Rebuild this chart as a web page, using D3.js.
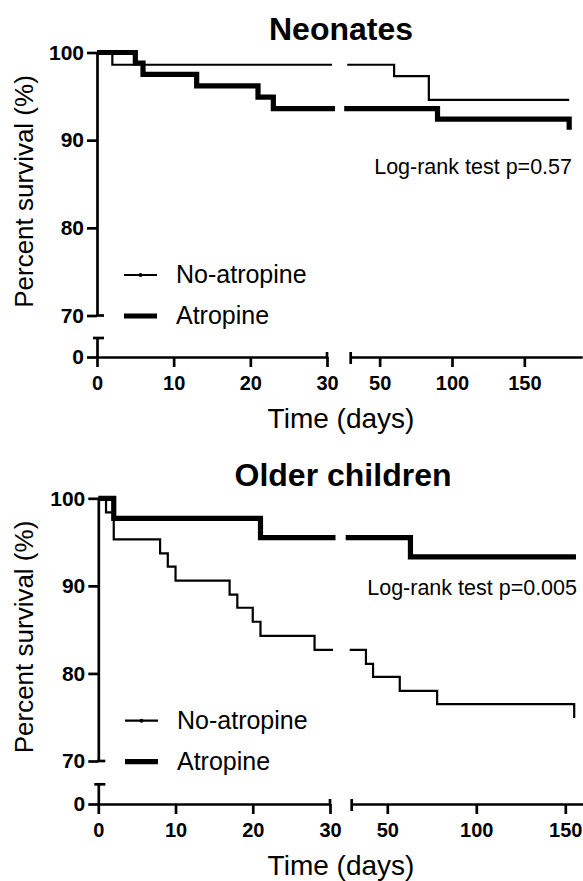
<!DOCTYPE html>
<html><head><meta charset="utf-8">
<script src="https://cdn.jsdelivr.net/npm/d3@7"></script>
<style>
body{margin:0;background:#fff}
svg{display:block}
text{font-family:"Liberation Sans",Arial,Helvetica,sans-serif;fill:#000}
</style>
</head><body>
<svg id="chart" width="583" height="881"></svg>
<script>
// ---------------- data ----------------
const seriesNames = ["No-atropine", "Atropine"];
const panelTitles = ["Neonates", "Older children"];
const pValueLabels = ["Log-rank test p=0.57", "Log-rank test p=0.005"];
const xTicksSeg1 = [0, 10, 20, 30];
const xTicksSeg2 = [50, 100, 150];
const yTicksUpper = [70, 80, 90, 100];
const yTicksLower = [0];

// Neonates
const neoNoTimes = [0, 2, 60, 84];
const neoNoSurv  = [100, 98.6, 97.3, 94.6];
const neoNoEnd   = 181;
const neoAtTimes = [0, 5, 6, 13, 21, 23, 90, 181];
const neoAtSurv  = [100, 98.8, 97.5, 96.2, 94.9, 93.6, 92.4, 91.2];
const neoAtEnd   = 181;

// Older children
const oldNoTimes = [0, 1, 2, 8, 9, 10, 17, 18, 20, 21, 28, 38, 42, 57, 78, 155];
const oldNoSurv  = [100, 98.4, 95.3, 93.7, 92.2, 90.6, 89.0, 87.5, 85.9, 84.3, 82.7, 81.1, 79.6, 78.0, 76.5, 74.9];
const oldNoEnd   = 155;
const oldAtTimes = [0, 2, 21, 63];
const oldAtSurv  = [100, 97.7, 95.5, 93.3];
const oldAtEnd   = 156;

// ---------------- drawing ----------------
const svg = d3.select("#chart");
const AXW = 2.7;
const lineWidths = [2.2, 5.2];

const panels = [
  {
    title: panelTitles[0], titleX: 341, titleY: 40,
    x1: [97, 327], x2: [350.7, 582.2], x2dom: [30, 190],
    yUp: [315.5, 52.5], yLow: [357, 338],
    series: [
      {t: neoNoTimes, s: neoNoSurv, end: neoNoEnd},
      {t: neoAtTimes, s: neoAtSurv, end: neoAtEnd}
    ],
    ext1: [5, 8], ext2: [3.5, 6.5],
    legY: [275, 316], legX: [124, 157], legTextX: 176,
    pText: pValueLabels[0], pX: 572, pY: 174,
    yLabelY: 191.5, xLabelY: 428
  },
  {
    title: panelTitles[1], titleX: 343, titleY: 485.5,
    x1: [98.3, 330], x2: [351.7, 583.1], x2dom: [30, 160],
    yUp: [761, 498.3], yLow: [804, 784.3],
    series: [
      {t: oldNoTimes, s: oldNoSurv, end: oldNoEnd},
      {t: oldAtTimes, s: oldAtSurv, end: oldAtEnd}
    ],
    ext1: [3, 5.5], ext2: [2, 6],
    legY: [720.7, 761.7], legX: [125, 158], legTextX: 177,
    pText: pValueLabels[1], pX: 577, pY: 595,
    yLabelY: 637, xLabelY: 875
  }
];

function styleAxis(g, fs) {
  g.attr("font-family", null);
  g.select(".domain").attr("stroke", "#000").attr("stroke-width", AXW);
  g.selectAll(".tick line").attr("stroke", "#000").attr("stroke-width", AXW);
  g.selectAll(".tick text").attr("font-size", fs).attr("font-weight", "bold")
    .attr("fill", "#000");
}

panels.forEach(p => {
  const xs1 = d3.scaleLinear().domain([0, 30]).range(p.x1);
  const xs2 = d3.scaleLinear().domain(p.x2dom).range(p.x2);
  const ysU = d3.scaleLinear().domain([70, 100]).range(p.yUp);
  const ysL = d3.scaleLinear().domain([0, 2.2]).range(p.yLow);
  const axisY = ysL(0);
  const axisX = xs1(0);
  const fmt = d3.format("d");

  // title
  svg.append("text").attr("x", p.titleX).attr("y", p.titleY)
    .attr("text-anchor", "middle").attr("font-size", 32).attr("font-weight", "bold")
    .text(p.title);

  // x axis segment 1
  const gx1 = svg.append("g").attr("transform", `translate(0,${axisY})`)
    .call(d3.axisBottom(xs1).tickValues(xTicksSeg1).tickFormat(fmt).tickSize(10).tickSizeOuter(0).tickPadding(9));
  styleAxis(gx1, 20);
  // x axis segment 2
  const gx2 = svg.append("g").attr("transform", `translate(0,${axisY})`)
    .call(d3.axisBottom(xs2).tickValues(xTicksSeg2).tickFormat(fmt).tickSize(10).tickSizeOuter(0).tickPadding(9));
  styleAxis(gx2, 20);
  // break caps on x axis
  svg.append("line").attr("x1", xs1(30)).attr("x2", xs1(30))
    .attr("y1", axisY - 5).attr("y2", axisY + 1).attr("stroke", "#000").attr("stroke-width", AXW);
  svg.append("line").attr("x1", xs2(30)).attr("x2", xs2(30))
    .attr("y1", axisY - 5).attr("y2", axisY + 7).attr("stroke", "#000").attr("stroke-width", AXW);

  // y axis upper segment
  const gyU = svg.append("g").attr("transform", `translate(${axisX},0)`)
    .call(d3.axisLeft(ysU).tickValues(yTicksUpper).tickFormat(fmt).tickSize(10).tickSizeOuter(0).tickPadding(3));
  styleAxis(gyU, 21);
  // y axis lower segment
  const gyL = svg.append("g").attr("transform", `translate(${axisX},0)`)
    .call(d3.axisLeft(ysL).tickValues(yTicksLower).tickFormat(fmt).tickSize(10).tickSizeOuter(0).tickPadding(3));
  styleAxis(gyL, 21);
  // break caps on y axis
  svg.append("line").attr("x1", axisX - 1).attr("x2", axisX + 7)
    .attr("y1", ysU(70)).attr("y2", ysU(70)).attr("stroke", "#000").attr("stroke-width", AXW);
  svg.append("line").attr("x1", axisX - 4).attr("x2", axisX + 7)
    .attr("y1", ysL(2.2)).attr("y2", ysL(2.2)).attr("stroke", "#000").attr("stroke-width", AXW);

  // survival curves
  const line = d3.line();
  p.series.forEach((sr, k) => {
    // segment 1
    let pts = [];
    let s = sr.s[0];
    pts.push([xs1(sr.t[0]), ysU(s)]);
    for (let i = 1; i < sr.t.length; i++) {
      if (sr.t[i] > 30) break;
      pts.push([xs1(sr.t[i]), ysU(s)]);
      s = sr.s[i];
      pts.push([xs1(sr.t[i]), ysU(s)]);
    }
    pts.push([xs1(30) + p.ext1[k], ysU(s)]);
    svg.append("path").attr("d", line(pts)).attr("fill", "none")
      .attr("stroke", "#000").attr("stroke-width", lineWidths[k]).attr("stroke-linejoin", "miter");

    // segment 2
    const s30 = s;
    pts = [[xs2(30) - p.ext2[k], ysU(s30)]];
    s = s30;
    let lastT = 30;
    for (let i = 1; i < sr.t.length; i++) {
      if (sr.t[i] <= 30) continue;
      pts.push([xs2(sr.t[i]), ysU(s)]);
      s = sr.s[i];
      pts.push([xs2(sr.t[i]), ysU(s)]);
      lastT = sr.t[i];
    }
    if (sr.end > lastT) pts.push([xs2(sr.end), ysU(s)]);
    svg.append("path").attr("d", line(pts)).attr("fill", "none")
      .attr("stroke", "#000").attr("stroke-width", lineWidths[k]).attr("stroke-linejoin", "miter");
  });

  // legend
  seriesNames.forEach((name, k) => {
    svg.append("line").attr("x1", p.legX[0]).attr("x2", p.legX[1])
      .attr("y1", p.legY[k]).attr("y2", p.legY[k])
      .attr("stroke", "#000").attr("stroke-width", lineWidths[k]);
    if (k === 0) {
      svg.append("circle").attr("cx", (p.legX[0] + p.legX[1]) / 2).attr("cy", p.legY[k])
        .attr("r", 2).attr("fill", "#000");
    }
    svg.append("text").attr("x", p.legTextX).attr("y", p.legY[k] + 8.3)
      .attr("font-size", 25).text(name);
  });

  // p-value
  svg.append("text").attr("x", p.pX).attr("y", p.pY).attr("text-anchor", "end")
    .attr("font-size", 21.5).text(p.pText);

  // axis titles
  svg.append("text").attr("transform", `translate(32.5,${p.yLabelY}) rotate(-90)`)
    .attr("text-anchor", "middle").attr("font-size", 26).text("Percent survival (%)");
  svg.append("text").attr("x", 341).attr("y", p.xLabelY).attr("text-anchor", "middle")
    .attr("font-size", 28).text("Time (days)");
});
</script>
</body></html>
